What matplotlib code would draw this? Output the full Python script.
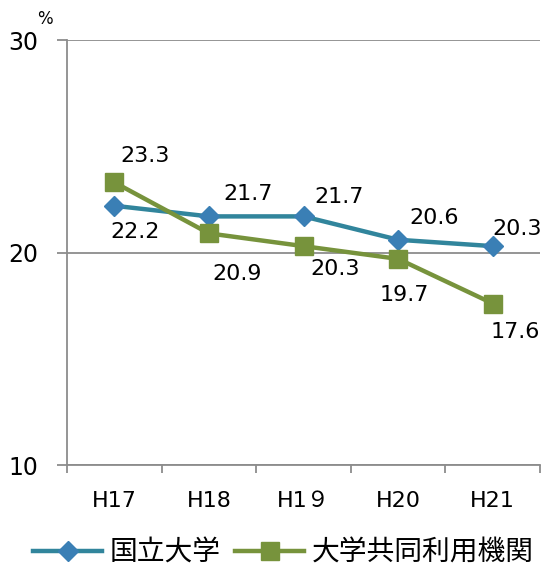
import matplotlib.pyplot as plt

plt.rcParams['font.family'] = ['DejaVu Sans', 'Noto Sans CJK JP']

years = ['H17', 'H18', 'H1９', 'H20', 'H21']
national = [22.2, 21.7, 21.7, 20.6, 20.3]
inter_univ = [23.3, 20.9, 20.3, 19.7, 17.6]

# label offsets in pixels, one per point
national_off = [(21, -26), (39, 22), (35, 19), (36, 22), (24, 17)]
inter_off = [(31, 26), (28, -41), (32, -23), (6, -36), (22, -28)]

blue_line = '#31859C'
blue_mark = '#3A7FB5'
green = '#77933C'
gray = '#8C8C8C'

fig = plt.figure(figsize=(5.45, 5.66), dpi=100)
ax = fig.add_axes([0.123, 0.1784, 0.868, 0.7509])

x = list(range(len(years)))
ax.plot(x, national, color=blue_line, lw=3.2, marker='D', ms=10,
        mfc=blue_mark, mec=blue_mark, label='国立大学', zorder=3)
ax.plot(x, inter_univ, color=green, lw=3.2, marker='s', ms=13,
        mfc=green, mec=green, label='大学共同利用機関', zorder=3)

for xi, v, off in zip(x, national, national_off):
    ax.annotate(f'{v:.1f}', (xi, v), xytext=off, textcoords='offset pixels',
                ha='center', va='center', fontsize=16)
for xi, v, off in zip(x, inter_univ, inter_off):
    ax.annotate(f'{v:.1f}', (xi, v), xytext=off, textcoords='offset pixels',
                ha='center', va='center', fontsize=16)

ax.set_xlim(-0.5, len(years) - 0.5)
ax.set_ylim(10, 30)
ax.set_yticks([10, 20, 30])
ax.set_yticklabels(['10', '20', '30'], fontsize=17)
ax.yaxis.grid(True, color=gray, lw=1.3)
ax.set_axisbelow(True)

# category labels centred, tick marks on category boundaries
ax.set_xticks(x)
ax.set_xticklabels(years, fontsize=16)
ax.tick_params(axis='x', length=0, pad=19)
ax.set_xticks([i - 0.5 for i in range(len(years) + 1)], minor=True)
ax.tick_params(axis='x', which='minor', length=6, color=gray, width=1.3)
ax.tick_params(axis='y', length=7, color=gray, width=1.3, pad=14)

for s in ['top', 'right']:
    ax.spines[s].set_visible(False)
for s in ['left', 'bottom']:
    ax.spines[s].set_color(gray)
    ax.spines[s].set_linewidth(1.3)

fig.text(0.083, 0.967, '%', fontsize=12, ha='center', va='center')

fig.legend(loc='center', bbox_to_anchor=(0.52, 0.024), ncol=2,
           frameon=False, handlelength=2.5, handletextpad=0.27,
           columnspacing=0.5, borderpad=0.1,
           prop={'family': ['Noto Sans CJK JP'], 'size': 20})

fig.savefig('out.png', dpi=100)
